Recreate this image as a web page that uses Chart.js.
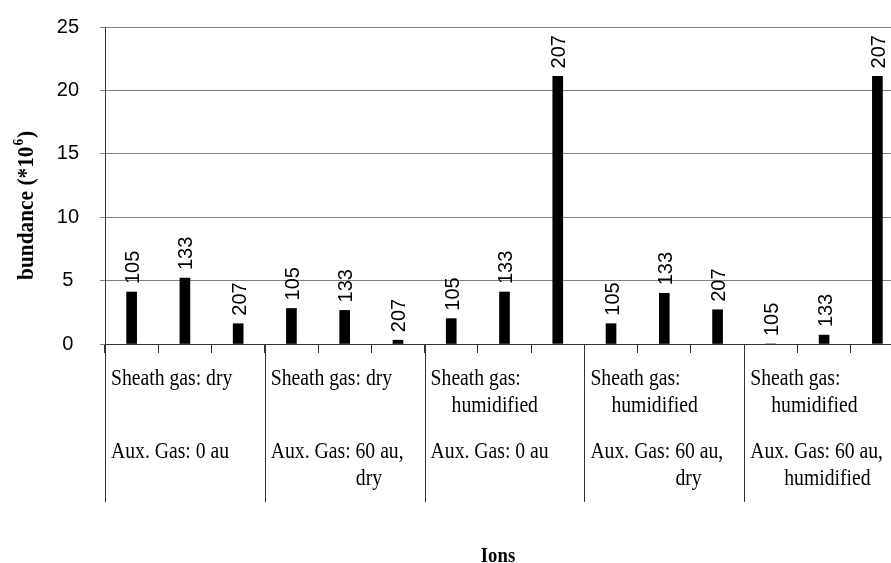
<!DOCTYPE html>
<html><head><meta charset="utf-8">
<script src="https://cdn.jsdelivr.net/npm/chart.js@4/dist/chart.umd.min.js"></script>
<style>
html,body{margin:0;padding:0;background:#fff;overflow:hidden;width:891px;height:563px}
#wrap{position:relative;width:904px;height:563px}
</style></head>
<body><div id="wrap"><canvas id="c" width="904" height="563"></canvas></div>
<script>
// ---- data ----
const ions = ['105', '133', '207'];
const groupSheath = [['Sheath gas: dry'], ['Sheath gas: dry'], ['Sheath gas:', 'humidified'], ['Sheath gas:', 'humidified'], ['Sheath gas:', 'humidified']];
const groupAux = [['Aux. Gas: 0 au'], ['Aux. Gas: 60 au,', 'dry'], ['Aux. Gas: 0 au'], ['Aux. Gas: 60 au,', 'dry'], ['Aux. Gas: 60 au,', 'humidified']];
const abundance = [4.1, 5.2, 1.6, 2.8, 2.65, 0.3, 2.0, 4.1, 21.1, 1.6, 4.0, 2.7, 0, 0.7, 21.1];
const yTicks = [0, 5, 10, 15, 20, 25];
const yTitleMain = 'bundance (*10';
const yTitleSup = '6';
const yTitleEnd = ')';
const xTitle = 'Ions';

// ---- build ----
const categories = [];
groupSheath.forEach(() => ions.forEach(ion => categories.push(ion)));

// second-line indents (px from group left) for wrapped label lines
const wrapIndent = { 'humidified': 27, 'dry': 91 };
const wrapIndentAux = { 'humidified': 40, 'dry': 91 };

function condensedText(ctx, text, x, y, sx) {
  ctx.save();
  ctx.translate(x, y);
  ctx.scale(sx, 1);
  ctx.fillText(text, 0, 0);
  ctx.restore();
}

const overlay = {
  id: 'overlay',
  afterDraw(chart) {
    const ctx = chart.ctx;
    const x = chart.scales.x;
    const area = chart.chartArea;
    const n = categories.length;
    const catW = (x.right - x.left) / n;
    const bottomLine = 502;
    ctx.save();
    // group separators
    ctx.strokeStyle = '#333';
    ctx.lineWidth = 1;
    for (let g = 0; g <= groupSheath.length; g++) {
      const px = Math.round(x.left + g * ions.length * catW) + 0.5;
      ctx.beginPath();
      ctx.moveTo(px, area.bottom);
      ctx.lineTo(px, bottomLine);
      ctx.stroke();
    }
    // group labels
    ctx.fillStyle = '#000';
    ctx.font = '24px "Liberation Serif", "Times New Roman", serif';
    ctx.textAlign = 'left';
    ctx.textBaseline = 'alphabetic';
    const sx = 0.82;
    groupSheath.forEach((lines, g) => {
      const gl = x.left + g * ions.length * catW;
      condensedText(ctx, lines[0], gl + 6, 385, sx);
      if (lines[1]) condensedText(ctx, lines[1], gl + wrapIndent[lines[1]], 412, sx);
      const aux = groupAux[g];
      condensedText(ctx, aux[0], gl + 6, 458, sx);
      if (aux[1]) condensedText(ctx, aux[1], gl + wrapIndentAux[aux[1]], 485, sx);
    });
    // data labels (ion names) above bars
    ctx.font = '20px "Liberation Sans", Arial, sans-serif';
    const meta = chart.getDatasetMeta(0);
    meta.data.forEach((bar, i) => {
      ctx.save();
      ctx.translate(bar.x + 2, bar.y - 8);
      ctx.rotate(-Math.PI / 2);
      ctx.textAlign = 'left';
      ctx.textBaseline = 'middle';
      ctx.fillText(categories[i], 0, 0);
      ctx.restore();
    });
    // y title
    ctx.save();
    ctx.translate(33, 280);
    ctx.rotate(-Math.PI / 2);
    ctx.scale(0.89, 1);
    ctx.font = 'bold 24px "Liberation Serif", "Times New Roman", serif';
    ctx.textAlign = 'left';
    ctx.textBaseline = 'alphabetic';
    ctx.fillText(yTitleMain, 0, 0);
    let w = ctx.measureText(yTitleMain).width;
    ctx.font = 'bold 15px "Liberation Serif", "Times New Roman", serif';
    ctx.fillText(yTitleSup, w + 1, -10);
    w += ctx.measureText(yTitleSup).width + 2;
    ctx.font = 'bold 24px "Liberation Serif", "Times New Roman", serif';
    ctx.fillText(yTitleEnd, w, 0);
    ctx.restore();
    // x title
    ctx.font = 'bold 22px "Liberation Serif", "Times New Roman", serif';
    ctx.textAlign = 'center';
    condensedText(ctx, xTitle, 498, 562, 0.85);
    ctx.restore();
  }
};

new Chart(document.getElementById('c'), {
  type: 'bar',
  data: {
    labels: categories,
    datasets: [{
      data: abundance,
      backgroundColor: '#000',
      borderWidth: 0,
      barThickness: 10
    }]
  },
  options: {
    responsive: false,
    animation: false,
    devicePixelRatio: 1,
    layout: { padding: { top: 27, left: 0, right: 0, bottom: 0 } },
    plugins: { legend: { display: false }, tooltip: { enabled: false } },
    scales: {
      x: {
        type: 'category',
        offset: true,
        ticks: { display: false },
        grid: { display: true, drawOnChartArea: false, offset: true, tickLength: 9, color: '#333' },
        border: { display: true, color: '#333' },
        afterFit(s) { s.height = 219; s.paddingLeft = 0; s.paddingRight = 0; }
      },
      y: {
        min: 0, max: 25,
        afterBuildTicks(s) { s.ticks = yTicks.map(v => ({ value: v })); },
        ticks: {
          color: '#000',
          font: { family: '"Liberation Sans", Arial, sans-serif', size: 20 },
          crossAlign: 'center',
          padding: 21
        },
        grid: { color: '#808080', tickLength: 5 },
        border: { display: true, color: '#333' },
        afterFit(s) { s.width = 105; s.paddingTop = 0; s.paddingBottom = 0; }
      }
    }
  },
  plugins: [overlay]
});
</script>
</body></html>
